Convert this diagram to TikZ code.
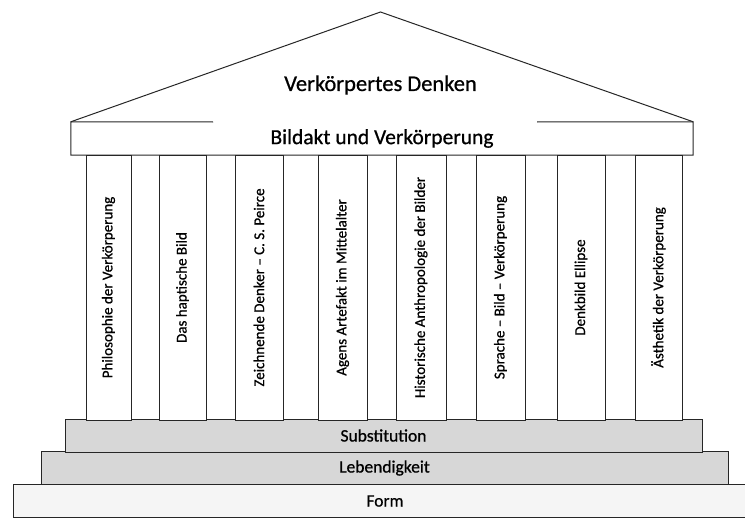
\documentclass[tikz,border=0pt]{standalone}
\usepackage{fontspec}
\setmainfont{Carlito}[FakeBold=0.7]
\definecolor{stepgray}{HTML}{D7D7D7}
\definecolor{formgray}{HTML}{F5F5F5}
\begin{document}
\begin{tikzpicture}[x=1pt,y=-1pt,
  line join=miter,
  edge/.style={draw=black!85, line width=1pt},
  colbox/.style={edge, fill=white, rotate=90, minimum width=265pt, inner sep=0pt,
    font=\fontsize{15}{17}\selectfont},
  stepbox/.style={edge, minimum height=33pt, inner sep=0pt, font=\fontsize{17.5}{20}\selectfont},
  headtext/.style={inner sep=0pt, font=\fontsize{21.5}{24}\selectfont}]
\useasboundingbox (0,0) rectangle (745,519);
% base steps
\node[stepbox, fill=formgray, minimum width=744pt] (form) at (385,501) {Form};
\node[stepbox, fill=stepgray, minimum width=687pt] (leb) at (384.5,468) {Lebendigkeit};
\node[stepbox, fill=stepgray, minimum width=637pt] (sub) at (383.5,435.5) {Substitution};
% columns
\node[colbox, minimum height=45pt] (c1) at (108.5,287.5) {Philosophie der Verkörperung};
\node[colbox, minimum height=47pt] (c2) at (182.5,287.5) {Das haptische Bild};
\node[colbox, minimum height=48pt] (c3) at (259,287.5) {Zeichnende Denker -- C. S. Peirce};
\node[colbox, minimum height=49pt] (c4) at (342.5,287.5) {Agens Artefakt im Mittelalter};
\node[colbox, minimum height=50pt] (c5) at (421,287.5) {Historische Anthropologie der Bilder};
\node[colbox, minimum height=49pt] (c6) at (500.5,287.5) {Sprache -- Bild -- Verkörperung};
\node[colbox, minimum height=48pt] (c7) at (581,287.5) {Denkbild Ellipse};
\node[colbox, minimum height=47pt] (c8) at (658.5,287.5) {Ästhetik der Verkörperung};
% entablature
\node[headtext, minimum width=622pt, minimum height=33pt] (ent) at (382,138.5) {Bildakt und Verkörperung};
\coordinate (gapl) at (213,122);
\coordinate (gapr) at (537,122);
\draw[edge] (gapl) -- (ent.north west) -- (ent.south west) -- (ent.south east) -- (ent.north east) -- (gapr);
% roof
\coordinate (apex) at (380.5,12);
\draw[edge] (ent.north west) -- (apex) -- (ent.north east);
\node[headtext, font=\fontsize{22.5}{25}\selectfont] (roof) at (380.5,85) {Verkörpertes Denken};
\end{tikzpicture}
\end{document}
